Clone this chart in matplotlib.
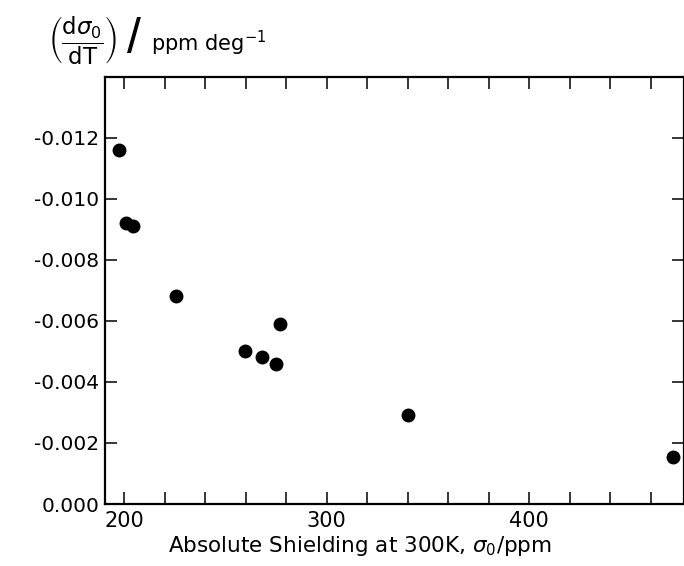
import matplotlib
matplotlib.use("Agg")
import matplotlib.pyplot as plt
from matplotlib.ticker import FixedLocator, FuncFormatter

plt.rcParams['font.family'] = ['DejaVu Sans']
plt.rcParams['axes.unicode_minus'] = False

# absolute shielding sigma0 (ppm) and d(sigma0)/dT (ppm/deg)
shielding = [197.5, 200.8, 204.3, 225.7, 259.8, 268.3, 275.2, 277.0, 340.4, 471.3]
dsigma_dt = [-0.0116, -0.0092, -0.0091, -0.0068, -0.0050, -0.0048, -0.0046,
             -0.0059, -0.0029, -0.00155]

x_ticks = [200, 220, 240, 260, 280, 300, 320, 340, 360, 380, 400, 420, 440, 460]
x_labels = {200: "200", 300: "300", 400: "400"}
y_ticks = [0.0, -0.002, -0.004, -0.006, -0.008, -0.010, -0.012]


def ylab(v, pos):
    if abs(v) < 1e-9:
        return "0.000"
    return "-{:.3f}".format(abs(v))


fig = plt.figure(figsize=(6.84, 5.66), dpi=100)
ax = fig.add_axes([105 / 684, 1 - 504 / 566, 579 / 684, 427.3 / 566])

ax.plot(shielding, dsigma_dt, 'o', color='black', markersize=9, clip_on=False)

ax.set_xlim(190.6, 476.5)
ax.set_ylim(0, -0.014)

ax.xaxis.set_major_locator(FixedLocator(x_ticks))
ax.xaxis.set_major_formatter(FuncFormatter(lambda v, p: x_labels.get(int(round(v)), "")))
ax.yaxis.set_major_locator(FixedLocator(y_ticks))
ax.yaxis.set_major_formatter(FuncFormatter(ylab))

for s in ax.spines.values():
    s.set_linewidth(1.6)
ax.tick_params(direction='in', top=True, right=True, length=8.5, width=1.1)
ax.tick_params(axis='x', labelsize=15, pad=5)
ax.tick_params(axis='y', labelsize=14.5, pad=4)

fig.text(360 / 684, 1 - 546 / 566, r"Absolute Shielding at 300K, $\sigma_0$/ppm",
         ha='center', va='center', fontsize=15.5)
# y label at top: (d sigma0 / dT) / ppm deg-1
fig.text(48 / 684, 1 - 40 / 566,
         r"$\left(\dfrac{\mathrm{d}\sigma_0}{\mathrm{dT}}\right)$",
         ha='left', va='center', fontsize=16.5)
fig.text(134 / 684, 1 - 40 / 566, "/", ha='center', va='center', fontsize=36,
         family='Liberation Sans')
fig.text(151 / 684, 1 - 43 / 566, r"ppm deg$^{-1}$",
         ha='left', va='center', fontsize=15)

fig.savefig("out.png", dpi=100)
